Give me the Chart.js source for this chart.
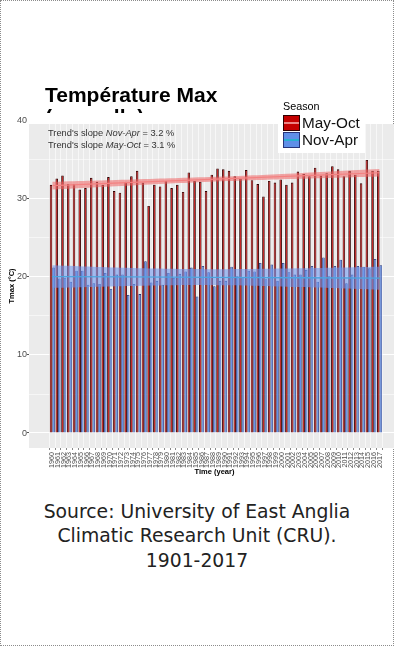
<!DOCTYPE html>
<html lang="fr">
<head>
<meta charset="utf-8">
<title>Température Max</title>
<script src="https://cdn.jsdelivr.net/npm/chart.js@4.4.1/dist/chart.umd.min.js"></script>
<style>
  html, body { margin: 0; padding: 0; background: #fff; width: 394px; height: 646px; overflow: hidden; }
  #frame { position: absolute; left: 0; top: 0; width: 392px; height: 644px; border: 1px dotted #8c8c8c; z-index: 0; }
  #title { position: absolute; left: 45px; top: 83.7px; width: 200px; height: 29.5px; overflow: hidden;
           font: bold 21px "Liberation Sans", Arial, sans-serif; line-height: 22px; color: #000; z-index: 3; }
  #wrap { position: absolute; left: 0; top: 95px; width: 402px; height: 390px; z-index: 1; }
  #source { position: absolute; left: 0; top: 499.5px; width: 394px; text-align: center;
            font: 18.8px "DejaVu Sans", sans-serif; line-height: 24.5px; color: #222; z-index: 2; }
</style>
</head>
<body>
<div id="frame"></div>
<div id="title">Température Max (annuelle)</div>
<div id="wrap"><canvas id="chart" width="402" height="390"></canvas></div>
<div id="source">Source: University of East Anglia<br>Climatic Research Unit (CRU).<br>1901-2017</div>

<script>
// Years on the x axis
const years = [
  1960, 1961, 1962, 1963, 1964, 1965, 1966, 1967, 1968, 1969,
  1970, 1971, 1972, 1973, 1974, 1975, 1976, 1977, 1978, 1979,
  1980, 1981, 1982, 1983, 1984, 1985, 1986, 1987, 1988, 1989,
  1990, 1991, 1992, 1993, 1994, 1995, 1996, 1997, 1998, 1999,
  2000, 2001, 2002, 2003, 2004, 2005, 2006, 2007, 2008, 2009,
  2010, 2011, 2012, 2013, 2014, 2015, 2016, 2017
];
const yearLabels = years.map(String);

// Seasonal maximum temperature (°C)
const seasons = ['May-Oct', 'Nov-Apr'];
const mayOct = [
  31.8, 32.6, 33.0, 31.9, 31.9, 31.2, 31.4, 32.7, 32.2, 31.8,
  32.8, 31.0, 30.8, 32.2, 32.9, 33.6, 32.1, 29.1, 31.8, 31.6,
  32.3, 31.4, 31.8, 30.9, 33.4, 32.3, 32.2, 31.0, 33.1, 33.9,
  33.8, 33.6, 32.9, 32.6, 33.7, 32.4, 31.9, 30.3, 32.3, 32.1,
  32.5, 31.8, 32.1, 33.5, 33.2, 32.9, 34.0, 33.0, 33.3, 34.2,
  33.8, 32.9, 33.6, 33.1, 32.0, 35.0, 33.6, 33.6
];
const novApr = [
  21.2, 19.8, 19.9, 19.4, 20.8, 20.8, 19.0, 19.2, 19.1, 20.5,
  18.5, 20.3, 20.3, 17.7, 19.1, 17.8, 22.0, 19.3, 19.5, 19.0,
  20.5, 19.9, 20.4, 20.7, 21.2, 17.5, 21.4, 20.6, 18.8, 19.5,
  19.5, 21.3, 20.1, 20.0, 20.8, 20.7, 21.8, 19.7, 21.6, 19.5,
  21.8, 20.6, 20.3, 20.3, 20.9, 21.4, 19.4, 22.5, 20.1, 21.4,
  22.2, 19.2, 20.3, 21.4, 21.3, 21.1, 22.3, 21.5
];

// Fitted trends with their confidence ribbons
const trendYears  = [1960, 1974, 1988.5, 2003, 2017];
const mayOctFit   = [31.70, 32.11, 32.53, 32.94, 33.35];
const mayOctHigh  = [32.20, 32.50, 32.84, 33.30, 33.82];
const mayOctLow   = [31.20, 31.72, 32.22, 32.58, 32.88];
const novAprFit   = [20.05, 20.00, 19.95, 19.90, 19.85];
const novAprHigh  = [21.50, 21.15, 21.00, 21.10, 21.30];
const novAprLow   = [18.60, 18.85, 18.95, 18.70, 18.35];
const slopePct    = { 'Nov-Apr': 3.2, 'May-Oct': 3.1 };

// Axis ticks
const yMajor = [0, 10, 20, 30, 40];
const yMinor = [5, 15, 25, 35];

const COLORS = {
  'May-Oct': { fill: '#C40000', edge: '#2E0000', band: 'rgba(240,100,100,0.55)', line: '#F6A5A5' },
  'Nov-Apr': { fill: '#5F8FE8', edge: '#26357A', band: 'rgba(110,150,240,0.58)', line: '#1CB8C8' }
};

const pts = (xs, ys) => xs.map((x, i) => ({ x: x, y: ys[i] }));

const ribbon = (xs, ys, extra) => Object.assign({
  type: 'line', data: pts(xs, ys), pointRadius: 0, borderWidth: 0, tension: 0.4, order: 0, fill: false
}, extra);

// Grey panel behind the plot
const panelBg = {
  id: 'panelBg',
  beforeDraw(chart) {
    const { ctx, chartArea: a } = chart;
    ctx.save();
    ctx.fillStyle = '#EBEBEB';
    ctx.fillRect(a.left, a.top, a.right - a.left, a.bottom - a.top);
    ctx.restore();
  }
};

// Major y labels that fall just above the panel
const topLabels = {
  id: 'topLabels',
  afterDraw(chart) {
    const { ctx, scales: { y } } = chart;
    ctx.save();
    ctx.font = '9px "Liberation Sans", Arial, sans-serif';
    ctx.fillStyle = '#4D4D4D';
    ctx.textAlign = 'right';
    ctx.textBaseline = 'middle';
    yMajor.filter(v => v > y.max).forEach(v => ctx.fillText(String(v), 27, y.getPixelForValue(v)));
    ctx.restore();
  }
};

// Slope notes in the top-left corner of the panel
const slopeNotes = {
  id: 'slopeNotes',
  afterDatasetsDraw(chart) {
    const { ctx, chartArea: a } = chart;
    const base = '9.3px "Liberation Sans", Arial, sans-serif';
    const ital = 'italic ' + base;
    ctx.save();
    ctx.fillStyle = '#333';
    ctx.textBaseline = 'alphabetic';
    ctx.textAlign = 'left';
    ['Nov-Apr', 'May-Oct'].forEach((s, k) => {
      let x = a.left + 19;
      const yy = a.top + 11.7 + k * 12;
      const parts = [["Trend's slope ", base], [s, ital], [' = ' + slopePct[s] + ' %', base]];
      parts.forEach(([t, f]) => { ctx.font = f; ctx.fillText(t, x, yy); x += ctx.measureText(t).width; });
    });
    ctx.restore();
  }
};

// Season legend box
const seasonLegend = {
  id: 'seasonLegend',
  afterDraw(chart) {
    const { ctx } = chart;
    ctx.save();
    ctx.fillStyle = '#fff';
    ctx.fillRect(278, 18, 87, 40);
    ctx.fillStyle = '#000';
    ctx.font = '10.8px "Liberation Sans", Arial, sans-serif';
    ctx.textBaseline = 'alphabetic';
    ctx.fillText('Season', 283, 15);
    seasons.forEach((s, k) => {
      const c = COLORS[s];
      const top = 20 + k * 17;
      ctx.fillStyle = c.fill;
      ctx.fillRect(283, top, 17, 16);
      ctx.strokeStyle = c.edge;
      ctx.lineWidth = 1;
      ctx.strokeRect(283.5, top + 0.5, 16, 15);
      ctx.strokeStyle = c.line;
      ctx.lineWidth = 1.6;
      ctx.beginPath();
      ctx.moveTo(284, top + 8);
      ctx.lineTo(299, top + 8);
      ctx.stroke();
      ctx.fillStyle = '#111';
      ctx.font = '15.3px "Liberation Sans", Arial, sans-serif';
      ctx.fillText(s, 302, top + 13);
    });
    ctx.restore();
  }
};

new Chart(document.getElementById('chart'), {
  type: 'bar',
  data: {
    datasets: [
      { label: 'May-Oct', data: pts(years, mayOct), backgroundColor: COLORS['May-Oct'].fill,
        borderColor: COLORS['May-Oct'].edge, borderWidth: 0.9, order: 1 },
      { label: 'Nov-Apr', data: pts(years, novApr), backgroundColor: COLORS['Nov-Apr'].fill,
        borderColor: COLORS['Nov-Apr'].edge, borderWidth: 0.8, order: 1 },
      ribbon(trendYears, mayOctHigh, { label: 'May-Oct high' }),
      ribbon(trendYears, mayOctLow, { label: 'May-Oct low', fill: '-1', backgroundColor: COLORS['May-Oct'].band }),
      ribbon(trendYears, mayOctFit, { label: 'May-Oct trend', borderWidth: 1.2, borderColor: COLORS['May-Oct'].line, tension: 0 }),
      ribbon(trendYears, novAprHigh, { label: 'Nov-Apr high' }),
      ribbon(trendYears, novAprLow, { label: 'Nov-Apr low', fill: '-1', backgroundColor: COLORS['Nov-Apr'].band }),
      ribbon(trendYears, novAprFit, { label: 'Nov-Apr trend', borderWidth: 1.3, borderColor: COLORS['Nov-Apr'].line, tension: 0 })
    ]
  },
  options: {
    responsive: false,
    animation: false,
    devicePixelRatio: 1,
    categoryPercentage: 0.9,
    barPercentage: 1,
    layout: { padding: { top: 29, right: 2, bottom: 0, left: 0 } },
    plugins: { legend: { display: false }, tooltip: { enabled: false } },
    scales: {
      x: {
        type: 'linear',
        min: 1956.5,
        max: 2020,
        afterBuildTicks(scale) { scale.ticks = years.map(v => ({ value: v })); },
        afterFit(scale) { scale.height = 37; },
        border: { display: false },
        grid: { color: 'rgba(255,255,255,0.85)', lineWidth: 0.7, tickLength: 2, tickColor: '#555' },
        ticks: {
          autoSkip: false, minRotation: 90, maxRotation: 90, padding: 2,
          color: '#4D4D4D', font: { family: '"Liberation Sans", Arial, sans-serif', size: 7.2 },
          callback: (v, i) => yearLabels[i]
        },
        title: { display: true, text: 'Time (year)', color: '#000',
                 font: { family: '"Liberation Sans", Arial, sans-serif', size: 7.5, weight: 'bold' },
                 padding: { top: 0, bottom: 8.5 } }
      },
      y: {
        min: -1.92,
        max: 39.6,
        afterBuildTicks(scale) {
          scale.ticks = yMajor.concat(yMinor).sort((a, b) => a - b)
            .filter(v => v >= scale.min && v <= scale.max).map(v => ({ value: v }));
        },
        afterFit(scale) { scale.width = 29; },
        border: { display: false },
        grid: {
          color: '#fff',
          lineWidth: c => (yMajor.includes(c.tick.value) ? 1.1 : 0.55),
          tickLength: 2,
          tickColor: c => (yMajor.includes(c.tick.value) ? '#555' : 'rgba(0,0,0,0)')
        },
        ticks: {
          padding: 0, color: '#4D4D4D',
          font: { family: '"Liberation Sans", Arial, sans-serif', size: 9 },
          callback: v => (yMajor.includes(v) ? String(v) : '')
        },
        title: { display: true, text: 'Tmax (°C)', color: '#000',
                 font: { family: '"Liberation Sans", Arial, sans-serif', size: 7.5, weight: 'bold' },
                 padding: { top: 7.5, bottom: 0 } }
      }
    }
  },
  plugins: [panelBg, slopeNotes, seasonLegend, topLabels]
});
</script>
</body>
</html>
